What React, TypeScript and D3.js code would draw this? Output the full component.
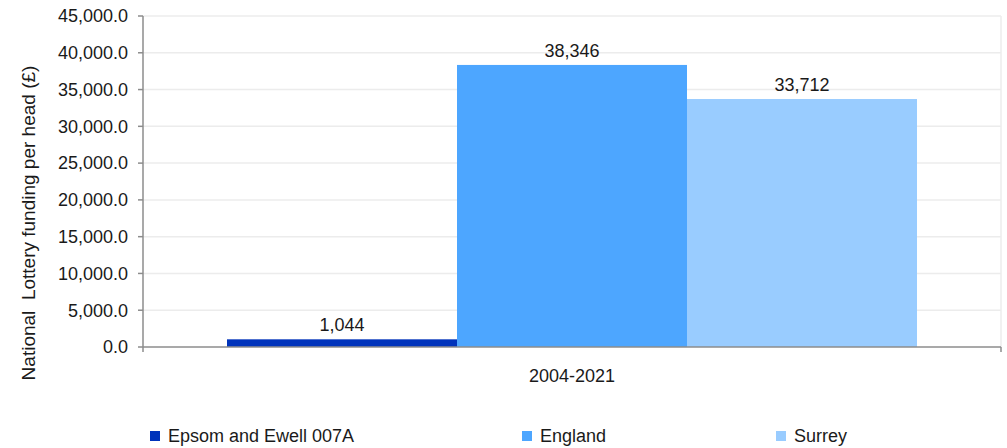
import React from "react";
import * as d3 from "d3";

const categories = ["2004-2021"];
const seriesNames = ["Epsom and Ewell 007A", "England", "Surrey"];
const seriesValues = [1044, 38346, 33712];
const seriesColors = ["#0033bb", "#4da6ff", "#99ccff"];
const yTicks = [0, 5000, 10000, 15000, 20000, 25000, 30000, 35000, 40000, 45000];
const yTitle = "National  Lottery funding per head (£)";

export default function App() {
  const W = 1007, H = 448;
  const left = 143, right = 1001, top = 16, bottom = 347;
  const y = d3.scaleLinear().domain([0, 45000]).range([bottom, top]);
  const x0 = d3.scaleBand().domain(categories).range([left, right]).paddingInner(0).paddingOuter(0);
  const groupW = 690;
  const x1 = d3.scaleBand().domain(seriesNames).range([0, groupW]);
  const fmtTick = d3.format(",.1f");
  const fmtVal = d3.format(",.0f");
  const font = "'Liberation Sans', Arial, sans-serif";
  const fs = 18;
  const legendX = [150, 522, 776];
  return (
    <svg width={W} height={H} style={{ position: "absolute", left: 0, top: 0 }} fontFamily={font}>
      <rect width={W} height={H} fill="#fff" />
      {yTicks.map((t) => (
        <g key={t}>
          {t > 0 && <line x1={left} x2={right} y1={y(t)} y2={y(t)} stroke="#ececec" strokeWidth={1.5} />}
          <line x1={left - 5} x2={left} y1={y(t)} y2={y(t)} stroke="#8c8c8c" strokeWidth={1.5} />
          <text x={left - 15} y={y(t)} dy="0.35em" textAnchor="end" fontSize={fs} fill="#1a1a1a">
            {fmtTick(t)}
          </text>
        </g>
      ))}
      <line x1={right} x2={right} y1={top} y2={bottom} stroke="#ececec" strokeWidth={1.5} />
      {categories.map((c) => {
        const gx = (x0(c) as number) + (x0.bandwidth() - groupW) / 2;
        return (
          <g key={c}>
            {seriesNames.map((s, i) => {
              const bx = gx + (x1(s) as number);
              const v = seriesValues[i];
              return (
                <g key={s}>
                  <rect x={bx} y={y(v)} width={x1.bandwidth()} height={bottom - y(v)} fill={seriesColors[i]} />
                  <text x={bx + x1.bandwidth() / 2} y={y(v) - 8} textAnchor="middle" fontSize={fs} fill="#1a1a1a">
                    {fmtVal(v)}
                  </text>
                </g>
              );
            })}
            <text x={(x0(c) as number) + x0.bandwidth() / 2} y={382} textAnchor="middle" fontSize={fs} fill="#1a1a1a">
              {c}
            </text>
          </g>
        );
      })}
      <line x1={left} x2={left} y1={top} y2={bottom + 5} stroke="#8c8c8c" strokeWidth={1.5} />
      <line x1={left} x2={right} y1={bottom} y2={bottom} stroke="#8c8c8c" strokeWidth={1.5} />
      <line x1={right} x2={right} y1={bottom} y2={bottom + 5} stroke="#8c8c8c" strokeWidth={1.5} />
      <text
        transform={`translate(35,223) rotate(-90)`}
        textAnchor="middle"
        fontSize={19}
        fill="#1a1a1a"
        style={{ whiteSpace: "pre" }}
      >
        {yTitle}
      </text>
      {seriesNames.map((s, i) => (
        <g key={s}>
          <rect x={legendX[i]} y={431} width={10} height={10} fill={seriesColors[i]} />
          <text x={legendX[i] + 18} y={436} dy="0.35em" fontSize={fs} fill="#1a1a1a">
            {s}
          </text>
        </g>
      ))}
    </svg>
  );
}
